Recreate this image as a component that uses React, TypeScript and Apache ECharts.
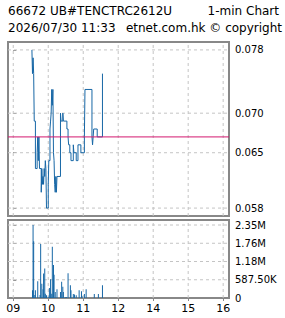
import React, { useEffect, useRef } from "react";
import * as echarts from "echarts";

const titleCode = "66672 UB#TENCTRC2612U";
const titleRight = "1-min Chart";
const stamp = "2026/07/30 11:33";
const credit = "etnet.com.hk © copyright";

const priceTimes = [
  "09:32", "09:33", "09:34", "09:35", "09:36", "09:38", "09:41", "09:42", "09:43", "09:44",
  "09:45", "09:48", "09:49", "09:50", "09:51", "09:52", "09:53", "09:54", "09:55", "09:56",
  "09:57", "10:00", "10:01", "10:03", "10:04", "10:05", "10:06", "10:07", "10:08", "10:09",
  "10:10", "10:11", "10:12", "10:13", "10:14", "10:15", "10:21", "10:22", "10:25", "10:26",
  "10:32", "10:34", "10:35", "10:37", "10:39", "10:43", "10:44", "10:48", "10:51", "10:56",
  "11:02", "11:03", "11:15", "11:16", "11:17", "11:18", "11:24", "11:33",
];
const prices = [
  0.078, 0.075, 0.077, 0.075, 0.069, 0.063, 0.065, 0.067, 0.064, 0.067,
  0.063, 0.060, 0.063, 0.061, 0.062, 0.061, 0.063, 0.062, 0.064, 0.063,
  0.058, 0.061, 0.064, 0.068, 0.069, 0.070, 0.073, 0.071, 0.073, 0.065,
  0.064, 0.061, 0.060, 0.062, 0.060, 0.062, 0.070, 0.069, 0.070, 0.069,
  0.068, 0.067, 0.066, 0.065, 0.064, 0.066, 0.065, 0.064, 0.066, 0.065,
  0.067, 0.073, 0.067, 0.066, 0.067, 0.068, 0.067, 0.075,
];

const volTimes = [
  "09:33", "09:34", "09:35", "09:37", "09:38", "09:42", "09:46", "09:47", "09:49", "09:51",
  "09:52", "09:54", "09:55", "09:57", "10:00", "10:02", "10:04", "10:06", "10:07", "10:09",
  "10:10", "10:12", "10:15", "10:21", "10:23", "10:25", "10:26", "10:29", "10:31", "10:34",
  "10:38", "10:39", "10:43", "10:45", "10:48", "10:53", "10:57", "10:58", "11:02", "11:05",
  "11:19", "11:26", "11:33",
];
const volumes = [
  250000, 2350000, 1830000, 100000, 250000, 540000, 100000, 1740000, 460000, 280000,
  790000, 950000, 140000, 90000, 40000, 320000, 600000, 140000, 1650000, 1060000,
  750000, 190000, 280000, 190000, 520000, 360000, 190000, 30000, 30000, 800000,
  410000, 250000, 130000, 110000, 90000, 250000, 220000, 60000, 130000, 280000,
  130000, 130000, 410000,
];

const prevClose = 0.067;
const priceTicks = [0.058, 0.065, 0.07, 0.078];
const volumeTicks = [0, 587500, 1175000, 1762500, 2350000];
const hourTicks = ["09:00", "10:00", "11:00", "12:00", "14:00", "15:00", "16:00"];
const hourLabels = ["09", "10", "11", "12", "14", "15", "16"];

// trading minutes since 09:00, lunch hour removed
function toMin(t: string): number {
  const [h, m] = t.split(":").map(Number);
  const raw = (h - 9) * 60 + m;
  return h >= 13 ? raw - 60 : raw;
}

function volLabel(v: number): string {
  if (v === 0) return "0";
  if (v < 1e6) return (Math.round(v / 10) / 100).toFixed(2) + "K";
  return (Math.round(v / 1e4) / 100).toFixed(2) + "M";
}

const BLUE = "#1767a6";
const GRID = "#c4c4c4";
const BORDER = "#888888";
const FONT = "DejaVu Sans";

export default function App() {
  const ref = useRef<HTMLDivElement>(null);
  useEffect(() => {
    document.body.style.margin = "0";
    if (!ref.current) return;
    const chart = echarts.init(ref.current, undefined, { renderer: "svg" });
    const hourVals = hourTicks.map(toMin);
    const xMin = -9;
    const xMax = 370;
    const pMin = 0.057;
    const pMax = 0.079;
    const vMax = 2511000;
    const gridStyle = { color: GRID, type: [3, 3] as any, width: 1 };
    const gl = (xi: number, data: number[][]) => ({
      type: "line", xAxisIndex: xi, yAxisIndex: xi, showSymbol: false, silent: true,
      lineStyle: gridStyle, data, z: 1,
    });
    const gridSeries: any[] = [
      ...priceTicks.map((v) => gl(0, [[xMin, v], [xMax, v]])),
      ...hourVals.map((h) => gl(0, [[h, pMin], [h, pMax]])),
      ...volumeTicks.filter((v) => v > 0).map((v) => gl(1, [[xMin, v], [xMax, v]])),
      ...hourVals.map((h) => gl(1, [[h, 0], [h, vMax]])),
    ];
    chart.setOption({
      animation: false,
      backgroundColor: "#ffffff",
      graphic: [
        { type: "text", left: 8, top: 5, style: { text: titleCode, font: `12px "${FONT}"`, fill: "#000" } },
        { type: "text", right: 6, top: 5, style: { text: titleRight, font: `12px "${FONT}"`, fill: "#000" } },
        { type: "text", left: 8, top: 22, style: { text: stamp, font: `12px "${FONT}"`, fill: "#000" } },
        { type: "text", right: 3, top: 22, style: { text: credit, font: `12px "${FONT}"`, fill: "#000" } },
      ],
      grid: [
        { left: 8, top: 42, width: 221, height: 174, show: true, borderColor: BORDER, borderWidth: 2, backgroundColor: "transparent" },
        { left: 8, top: 220, width: 221, height: 78, show: true, borderColor: BORDER, borderWidth: 2, backgroundColor: "transparent" },
      ],
      xAxis: [
        {
          type: "value", gridIndex: 0, min: xMin, max: xMax,
          axisLine: { show: false },
          axisTick: { show: false },
          axisLabel: { show: false },
          splitLine: { show: false },
        },
        {
          type: "value", gridIndex: 1, min: xMin, max: xMax,
          axisLine: { show: false },
          axisTick: { show: true, length: 3, customValues: hourVals, lineStyle: { color: BORDER } },
          axisLabel: {
            show: true, customValues: hourVals, margin: 5,
            fontFamily: FONT, fontSize: 11, color: "#000",
            formatter: (v: number) => hourLabels[hourVals.indexOf(v)] ?? "",
          },
          splitLine: { show: false },
        },
      ],
      yAxis: [
        {
          type: "value", gridIndex: 0, position: "right", min: pMin, max: pMax,
          axisLine: { show: false },
          axisTick: { show: true, length: 3, customValues: priceTicks, lineStyle: { color: BORDER } },
          axisLabel: {
            customValues: priceTicks, margin: 6, fontFamily: FONT, fontSize: 10, color: "#000",
            formatter: (v: number) => v.toFixed(3),
          },
          splitLine: { show: false },
        },
        {
          type: "value", gridIndex: 1, position: "right", min: 0, max: vMax,
          axisLine: { show: false },
          axisTick: { show: true, length: 3, customValues: volumeTicks, lineStyle: { color: BORDER } },
          axisLabel: {
            customValues: volumeTicks, margin: 6, fontFamily: FONT, fontSize: 10, color: "#000",
            formatter: (v: number) => volLabel(v),
          },
          splitLine: { show: false },
        },
      ],
      series: [
        ...gridSeries,
        {
          type: "line", xAxisIndex: 0, yAxisIndex: 0, step: "end", showSymbol: false,
          lineStyle: { color: BLUE, width: 1 },
          data: priceTimes.map((t, i) => [toMin(t), prices[i]]),
          z: 2,
        },
        {
          type: "line", xAxisIndex: 0, yAxisIndex: 0, showSymbol: false, silent: true,
          lineStyle: { color: "#d4166e", width: 1 },
          data: [[xMin, prevClose], [xMax, prevClose]],
          z: 3,
        },
        {
          type: "bar", xAxisIndex: 1, yAxisIndex: 1, barWidth: 1,
          itemStyle: { color: BLUE },
          data: volTimes.map((t, i) => [toMin(t), volumes[i]]),
          z: 2,
        },
      ],
    });
    return () => chart.dispose();
  }, []);
  return <div ref={ref} style={{ width: 285, height: 318 }} />;
}
